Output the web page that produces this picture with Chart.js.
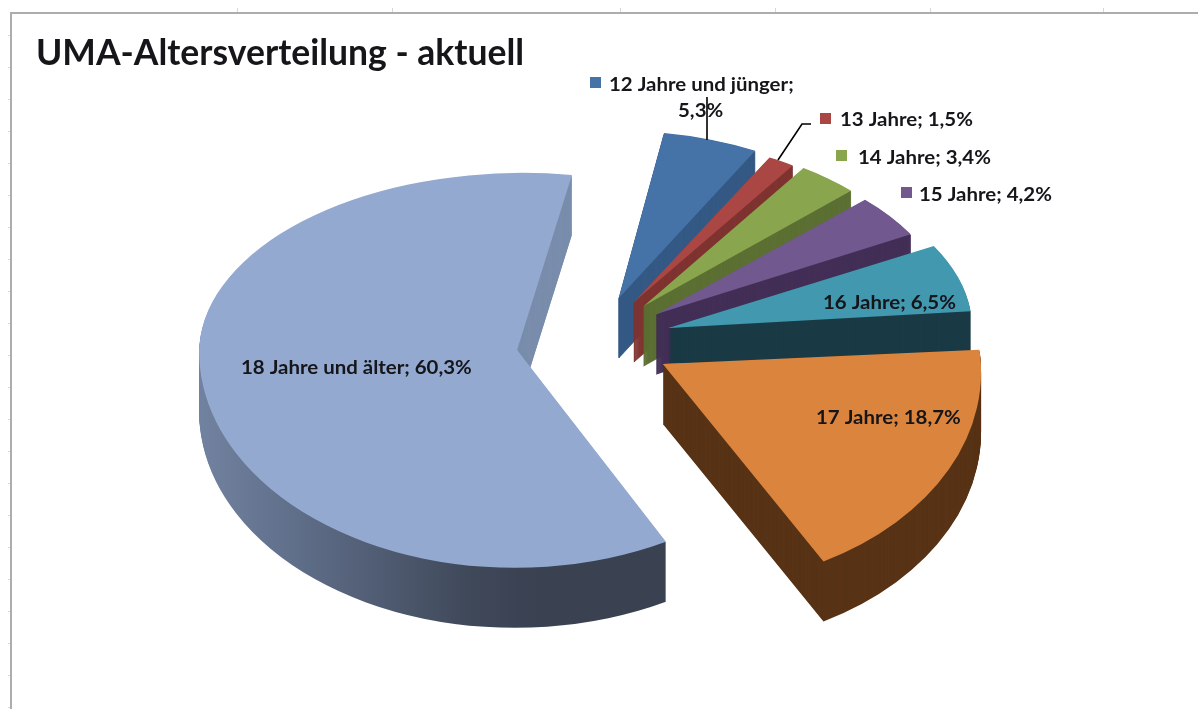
<!DOCTYPE html>
<html lang="de">
<head>
<meta charset="utf-8">
<title>UMA-Altersverteilung</title>
<script src="https://cdn.jsdelivr.net/npm/chart.js@4"></script>
<style>
    html, body { margin: 0; background: #fff; }
    canvas { display: block; filter: blur(0.4px); }
</style>
</head>
<body>
<canvas id="pie" width="1198" height="709"></canvas>
<script>
const chartTitle = 'UMA-Altersverteilung - aktuell';
const categories = ['12 Jahre und jünger', '13 Jahre', '14 Jahre', '15 Jahre', '16 Jahre', '17 Jahre', '18 Jahre und älter'];
const shares = [5.3, 1.5, 3.4, 4.2, 6.5, 18.7, 60.3];

const topColors = ['#4573a7', '#aa4643', '#89a54e', '#71588f', '#4198af', '#db843d', '#93a9cf'];
const sideColors = ['#355a85', '#7f3431', '#5d7034', '#432f57', '#1a3a45', '#583316', '#7a8dac'];

// fake 3D: each slice is squashed around its own tip, back half flatter than front half
const center3d = { x: 594, y: 342 };
const explode = 78;
const explodeTilt = 0.6;
const depth = 60;
const tiltBack = [0.525, 0.515, 0.52, 0.515, 0.53, 0.45, 0.557];
const tiltFront = [0.69, 0.69, 0.69, 0.69, 0.69, 0.705, 0.685];
const stretchX = [0.91, 0.905, 0.91, 0.915, 0.955, 1, 1];
const shearBack = [0, 0, 0, 0, 0, 0, -0.029];
const shearFront = [0, 0, 0, 0, 0, 0.05, -0.01];

function withOptions(arc, extra, fn) {
    const saved = arc.options;
    const props = {};
    Object.keys(extra).forEach(k => { props[k] = { value: extra[k] }; });
    arc.options = Object.create(saved, props);
    fn();
    arc.options = saved;
}

function drawSliceAt(ctx, arc, i, dy, extra) {
    const mid = (arc.startAngle + arc.endAngle) / 2;
    const tipX = center3d.x + Math.cos(mid) * explode;
    const tipY = Math.round(center3d.y + Math.sin(mid) * explode * explodeTilt) + dy;
    withOptions(arc, extra, () => {
        ctx.save();
        ctx.beginPath();
        ctx.rect(0, 0, 1198, tipY + 0.5);
        ctx.clip();
        ctx.translate(tipX, tipY);
        ctx.transform(1, 0, shearBack[i], 1, 0, 0);
        ctx.scale(stretchX[i], tiltBack[i]);
        ctx.translate(-arc.x, -arc.y);
        arc.draw(ctx);
        ctx.restore();

        ctx.save();
        ctx.beginPath();
        ctx.rect(0, tipY - 0.5, 1198, 709);
        ctx.clip();
        ctx.translate(tipX, tipY);
        ctx.transform(1, 0, shearFront[i], 1, 0, 0);
        ctx.scale(stretchX[i], tiltFront[i]);
        ctx.translate(-arc.x, -arc.y);
        arc.draw(ctx);
        ctx.restore();
    });
}

const pie3d = {
    id: 'pie3d',
    beforeDatasetsDraw(chart) {
        const ctx = chart.ctx;
        const arcs = chart.getDatasetMeta(0).data;

        const shade = ctx.createLinearGradient(200, 0, 640, 0);
        shade.addColorStop(0, '#8497b8');
        shade.addColorStop(0.45, '#5f6e89');
        shade.addColorStop(0.85, '#3f4859');
        shade.addColorStop(1, '#3a4151');

        arcs.forEach((arc, i) => {
            for (let d = depth; d > 0; d--) {
                if (i === arcs.length - 1) {
                    // big slice: gradient on the rim, flat colour on the cut face behind
                    ctx.save();
                    ctx.beginPath();
                    ctx.rect(0, 0, 450, 709);
                    ctx.rect(450, 400, 748, 309);
                    ctx.clip();
                    drawSliceAt(ctx, arc, i, d, { backgroundColor: shade });
                    ctx.restore();
                    ctx.save();
                    ctx.beginPath();
                    ctx.rect(450, 0, 748, 400);
                    ctx.clip();
                    drawSliceAt(ctx, arc, i, d, { backgroundColor: sideColors[i] });
                    ctx.restore();
                } else if (i <= 3) {
                    // thin border so the narrow wedges do not fade out at the tip
                    drawSliceAt(ctx, arc, i, d, { backgroundColor: sideColors[i], borderColor: sideColors[i], borderWidth: 1 });
                } else {
                    drawSliceAt(ctx, arc, i, d, { backgroundColor: sideColors[i] });
                }
            }
            drawSliceAt(ctx, arc, i, 0, { backgroundColor: topColors[i] });
        });
        return false;
    },
    afterDraw(chart) {
        const ctx = chart.ctx;
        drawFrame(ctx);
        drawLabels(ctx);
    }
};

function drawFrame(ctx) {
    ctx.save();
    ctx.strokeStyle = '#d8d8d8';
    ctx.lineWidth = 1;
    [237, 392, 620, 775, 930, 1103].forEach(x => {
        ctx.beginPath(); ctx.moveTo(x + 0.5, 8); ctx.lineTo(x + 0.5, 12); ctx.stroke();
    });
    for (let y = 35; y < 709; y += 32) {
        ctx.beginPath(); ctx.moveTo(8, y + 0.5); ctx.lineTo(11, y + 0.5); ctx.stroke();
    }
    ctx.strokeStyle = '#adadad';
    ctx.lineWidth = 2;
    ctx.beginPath();
    ctx.moveTo(11, 709);
    ctx.lineTo(11, 13);
    ctx.lineTo(1198, 13);
    ctx.stroke();
    ctx.restore();
}

function labelFor(i) {
    return `${categories[i]}; ${shares[i].toLocaleString('de-DE')}%`;
}

// the original's hinted label font runs wider than Lato, so stretch it sideways
function wideText(ctx, text, x, y) {
    ctx.save();
    ctx.translate(x, y);
    ctx.scale(1.135, 1);
    ctx.fillText(text, 0, 0);
    ctx.restore();
}

function drawLabels(ctx) {
    ctx.save();
    ctx.font = 'bold 18px Lato';
    ctx.textBaseline = 'alphabetic';

    // leader lines
    ctx.strokeStyle = '#000';
    ctx.lineWidth = 1.6;
    ctx.beginPath();
    ctx.moveTo(707, 97); ctx.lineTo(707, 140);
    ctx.moveTo(811, 124); ctx.lineTo(802, 124); ctx.lineTo(778, 160);
    ctx.stroke();

    // legend keys next to the outside labels
    [[590, 77, 0], [820, 113, 1], [836, 150, 2], [901, 187, 3]].forEach(([x, y, i]) => {
        ctx.fillStyle = topColors[i];
        ctx.fillRect(x, y, 11, 11);
    });

    ctx.fillStyle = '#15151a';
    wideText(ctx, `${categories[0]};`, 609, 91);
    wideText(ctx, `${shares[0].toLocaleString('de-DE')}%`, 678, 117);
    wideText(ctx, labelFor(1), 840, 126);
    wideText(ctx, labelFor(2), 858, 164);
    wideText(ctx, labelFor(3), 919, 201);
    wideText(ctx, labelFor(4), 823, 309);
    wideText(ctx, labelFor(5), 816, 424);
    wideText(ctx, labelFor(6), 241, 374);
    ctx.restore();
}

new Chart(document.getElementById('pie'), {
    type: 'pie',
    data: {
        labels: categories,
        datasets: [{
            data: shares,
            backgroundColor: topColors,
            borderWidth: 0
        }]
    },
    options: {
        responsive: false,
        animation: false,
        rotation: 9,
        radius: 318,
        layout: { padding: { left: 36 } },
        plugins: {
            legend: { display: false },
            tooltip: { enabled: false },
            title: {
                display: true,
                text: chartTitle,
                align: 'start',
                color: '#15151a',
                font: { family: 'Lato', size: 35.5, weight: 'bold' },
                padding: { top: 32, bottom: 0 }
            }
        }
    },
    plugins: [pie3d]
});
</script>
</body>
</html>
